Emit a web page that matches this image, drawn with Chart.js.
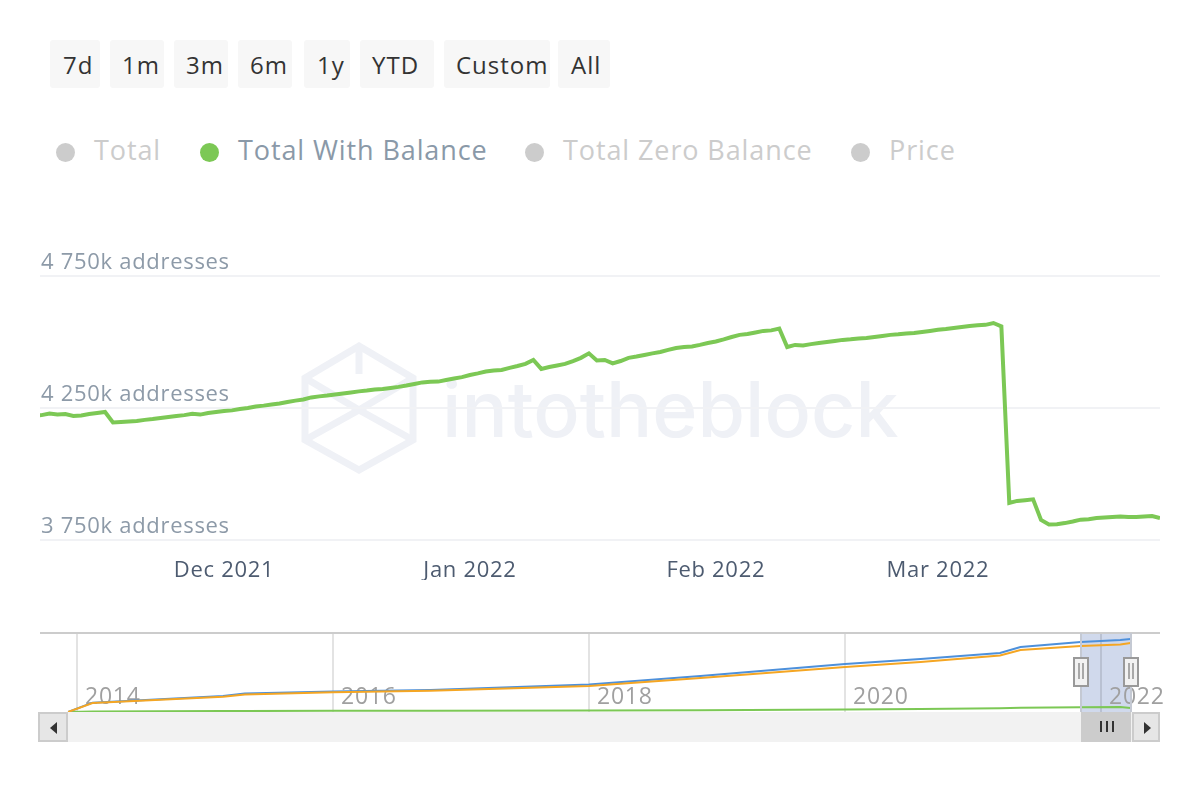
<!DOCTYPE html>
<html lang="en">

<head>
    <meta charset="UTF-8">
    <title>Total With Balance</title>
    <script src="https://cdn.jsdelivr.net/npm/chart.js"></script>
    <style>
        body {
            margin: 0;
            background-color: #fff;
            font-family: "Open Sans", sans-serif;
            overflow: hidden;
        }

        #page {
            position: relative;
            width: 1200px;
            height: 800px;
        }

        canvas,
        .abs {
            position: absolute;
        }

        .btn {
            position: absolute;
            top: 40px;
            height: 48px;
            line-height: 50px;
            box-sizing: border-box;
            background-color: #f7f7f7;
            border-radius: 3px;
            color: #333;
            font-size: 24px;
            letter-spacing: 1px;
        }

        .dot {
            position: absolute;
            top: 143px;
            width: 19px;
            height: 19px;
            border-radius: 50%;
            background-color: #ccc;
        }

        .leg {
            position: absolute;
            top: 130px;
            line-height: 40px;
            font-size: 27px;
            letter-spacing: 0.9px;
            color: #ccc;
            white-space: nowrap;
        }

        #watermark {
            left: 442px;
            top: 354px;
            font-family: Inter, sans-serif;
            font-weight: 500;
            font-size: 77px;
            line-height: 110px;
            color: #eff1f6;
            white-space: nowrap;
        }

        .handle {
            position: absolute;
            top: 657px;
            width: 12px;
            height: 26px;
            background-color: #f2f2f2;
            border: 2px solid #999;
        }

        .handle i {
            position: absolute;
            top: 4px;
            height: 16px;
            width: 2px;
            background-color: #a8a8a8;
        }
    </style>
</head>

<body>
    <div id="page">
        <div class="btn" style="left:50px;width:50px;padding-left:13px">7d</div>
        <div class="btn" style="left:110px;width:54px;padding-left:12px">1m</div>
        <div class="btn" style="left:174px;width:54px;padding-left:12px">3m</div>
        <div class="btn" style="left:238px;width:54px;padding-left:12px">6m</div>
        <div class="btn" style="left:304px;width:46px;padding-left:13px">1y</div>
        <div class="btn" style="left:360px;width:74px;padding-left:12px">YTD</div>
        <div class="btn" style="left:444px;width:106px;padding-left:12px">Custom</div>
        <div class="btn" style="left:558px;width:52px;padding-left:13px">All</div>

        <div class="dot" style="left:56px"></div>
        <div class="leg" style="left:94px">Total</div>
        <div class="dot" style="left:200px;background-color:#7cc855"></div>
        <div class="leg" style="left:238px;color:#8a99a8">Total With Balance</div>
        <div class="dot" style="left:525px"></div>
        <div class="leg" style="left:563px">Total Zero Balance</div>
        <div class="dot" style="left:851px"></div>
        <div class="leg" style="left:889px">Price</div>

        <!-- watermark sits behind the main canvas -->
        <svg class="abs" style="left:295px;top:338px" width="130" height="140" fill="none" stroke="#eff1f6" stroke-width="7">
            <path d="M64 8 L118 40 V102 L64 132 L10 102 V40 Z" />
            <path d="M10 40 L64 72 L118 40" />
            <path d="M10 102 L64 72 L118 102" />
            <path d="M64 8 L64 36" />
        </svg>
        <div id="watermark" class="abs">intotheblock</div>

        <canvas id="mainChart" width="1120" height="340" style="left:40px;top:240px"></canvas>

        <!-- navigator -->
        <div class="abs" style="left:1081px;top:633px;width:50px;height:79px;background-color:#d0d9ec"></div>
        <canvas id="navChart" width="1130" height="80" style="left:40px;top:632px"></canvas>
        <div class="abs" style="left:1080px;top:633px;width:2px;height:79px;background-color:#c4c9d3"></div>
        <div class="abs" style="left:1130px;top:633px;width:2px;height:79px;background-color:#c4c9d3"></div>

        <!-- scrollbar -->
        <div class="abs" style="left:38px;top:712px;width:1122px;height:30px;background-color:#f2f2f2"></div>
        <div class="abs" style="left:38px;top:712px;width:26px;height:26px;background-color:#e6e6e6;border:2px solid #ccc"></div>
        <div class="abs" style="left:50px;top:722px;border-style:solid;border-width:6px 7px 6px 0;border-color:transparent #333 transparent transparent"></div>
        <div class="abs" style="left:1081px;top:712px;width:50px;height:30px;background-color:#ccc"></div>
        <div class="abs" style="left:1100px;top:721px;width:2px;height:11px;background-color:#333"></div>
        <div class="abs" style="left:1106px;top:721px;width:2px;height:11px;background-color:#333"></div>
        <div class="abs" style="left:1112px;top:721px;width:2px;height:11px;background-color:#333"></div>
        <div class="abs" style="left:1132px;top:712px;width:24px;height:26px;background-color:#e6e6e6;border:2px solid #ccc"></div>
        <div class="abs" style="left:1144px;top:722px;border-style:solid;border-width:6px 0 6px 7px;border-color:transparent transparent transparent #333"></div>

        <div class="handle" style="left:1073px"><i style="left:3px"></i><i style="left:7px"></i></div>
        <div class="handle" style="left:1123px"><i style="left:3px"></i><i style="left:7px"></i></div>
    </div>

    <script>
        // main chart, one value per day starting 7 Nov 2021, in thousands of addresses
        const withBalance = [
            4222, 4223, 4229, 4225, 4227, 4220, 4222, 4227, 4231, 4235, 4195,
            4197, 4199, 4201, 4205, 4208, 4212, 4216, 4220, 4223, 4228,
            4225, 4231, 4235, 4239, 4241, 4246, 4250, 4256, 4259, 4263,
            4267, 4273, 4278, 4282, 4290, 4294, 4297, 4301, 4305, 4309,
            4313, 4316, 4320, 4322, 4326, 4330, 4335, 4341, 4347, 4349,
            4350, 4356, 4362, 4367, 4375, 4381, 4388, 4392, 4394, 4402,
            4409, 4417, 4432, 4398, 4405, 4411, 4417, 4428, 4440, 4457,
            4430, 4432, 4419, 4428, 4440, 4445, 4451, 4457, 4462, 4470,
            4477, 4481, 4483, 4489, 4496, 4502, 4510, 4519, 4527, 4530,
            4536, 4542, 4544, 4551, 4481, 4489, 4487, 4492, 4496, 4500,
            4504, 4508, 4510, 4513, 4515, 4519, 4523, 4527, 4529, 4532,
            4534, 4538, 4542, 4546, 4549, 4553, 4557, 4561, 4563, 4565,
            4572, 4559, 3890, 3898, 3901, 3904, 3826, 3809, 3810, 3814,
            3820, 3827, 3829, 3833, 3835, 3837, 3839, 3837, 3837, 3839,
            3841, 3833
        ];
        const monthDays = [24, 55, 86, 114];
        const monthLabels = ["Dec 2021", "Jan 2022", "Feb 2022", "Mar 2022"];
        const yTicks = [3750, 4250, 4750];

        // navigator, whole history in millions of addresses
        const navYears = [2013.93, 2014.12, 2015.14, 2015.31, 2016, 2016.76, 2018, 2018.87, 2020, 2020.59, 2021.21, 2021.37, 2021.84, 2022.15, 2022.23];
        const navTotal = [0, 7.8, 13.3, 15.4, 17.1, 18.3, 22.9, 30, 40, 44.2, 49.2, 54.2, 58.3, 60, 60.8];
        const navZero = [0, 7.5, 12.7, 14.6, 16.4, 17.7, 21.7, 28.3, 37.5, 41.7, 47.1, 51.7, 55, 56.3, 57.5];
        const navWithBalance = [0, 0.4, 0.8, 0.8, 1, 1, 1.25, 1.5, 2.1, 2.5, 3.1, 3.5, 3.9, 4.2, 3.3];
        const navTicks = [2014, 2016, 2018, 2020, 2022];

        const fontName = '"Open Sans", sans-serif';

        // the tick labels in the reference are a little spaced out
        const spacedText = {
            id: "spacedText",
            beforeDraw(chart) {
                chart.ctx.letterSpacing = "0.7px";
            }
        };

        function formatAddresses(v) {
            const s = String(v);
            return s.slice(0, 1) + " " + s.slice(1) + "k addresses";
        }

        new Chart(document.getElementById("mainChart"), {
            type: "line",
            data: {
                datasets: [{
                    data: withBalance.map((v, i) => ({ x: i, y: v })),
                    borderColor: "#7cc855",
                    borderWidth: 4,
                    pointRadius: 0,
                    tension: 0
                }]
            },
            options: {
                responsive: false,
                animation: false,
                layout: { padding: { top: 36 } },
                plugins: { legend: { display: false }, tooltip: { enabled: false } },
                scales: {
                    x: {
                        type: "linear",
                        min: 0.8,
                        max: 142,
                        afterBuildTicks: (scale) => { scale.ticks = monthDays.map(d => ({ value: d })); },
                        afterFit: (scale) => { scale.height = 40; },
                        grid: { display: false },
                        border: { display: false },
                        ticks: {
                            autoSkip: false,
                            maxRotation: 0,
                            padding: 10,
                            color: "#4d5b70",
                            font: { family: fontName, size: 22 },
                            callback: (v) => monthLabels[monthDays.indexOf(v)]
                        }
                    },
                    y: {
                        min: 3750,
                        max: 4750,
                        afterBuildTicks: (scale) => { scale.ticks = yTicks.map(v => ({ value: v })); },
                        afterFit: (scale) => { scale.width = 0; },
                        grid: { color: "#f1f2f5", lineWidth: 2, drawTicks: false },
                        border: { display: false },
                        ticks: {
                            mirror: true,
                            padding: 1,
                            labelOffset: -13,
                            color: "#8d9aa8",
                            font: { family: fontName, size: 22 },
                            callback: formatAddresses
                        }
                    }
                }
            },
            plugins: [spacedText]
        });

        function navSeries(values, color) {
            return {
                data: values.map((v, i) => ({ x: navYears[i], y: v })),
                borderColor: color,
                borderWidth: 2,
                pointRadius: 0,
                tension: 0
            };
        }

        new Chart(document.getElementById("navChart"), {
            type: "line",
            data: {
                datasets: [
                    navSeries(navZero, "#f5a623"),
                    navSeries(navTotal, "#4d90db"),
                    navSeries(navWithBalance, "#7cc855")
                ]
            },
            options: {
                responsive: false,
                animation: false,
                layout: { padding: { top: 1, right: 10 } },
                plugins: { legend: { display: false }, tooltip: { enabled: false } },
                scales: {
                    x: {
                        type: "linear",
                        min: 2013.71,
                        max: 2022.46,
                        afterBuildTicks: (scale) => { scale.ticks = navTicks.map(v => ({ value: v })); },
                        afterFit: (scale) => { scale.height = 0; },
                        grid: { color: "rgba(0, 0, 0, 0.11)", lineWidth: 2, drawTicks: false },
                        border: { display: false },
                        ticks: {
                            autoSkip: false,
                            maxRotation: 0,
                            align: "start",
                            mirror: true,
                            labelOffset: 8,
                            padding: 1,
                            color: "#a0a0a0",
                            font: { family: fontName, size: 23 },
                            callback: (v) => String(v)
                        }
                    },
                    y: {
                        min: 0,
                        max: 65.83,
                        display: false
                    }
                }
            },
            plugins: [spacedText, {
                // the frame line along the top of the navigator
                id: "navTop",
                afterDraw(chart) {
                    const c = chart.ctx;
                    c.save();
                    c.fillStyle = "#ccc";
                    c.fillRect(0, 0, chart.chartArea.right, 2);
                    c.restore();
                }
            }]
        });
    </script>
</body>

</html>
